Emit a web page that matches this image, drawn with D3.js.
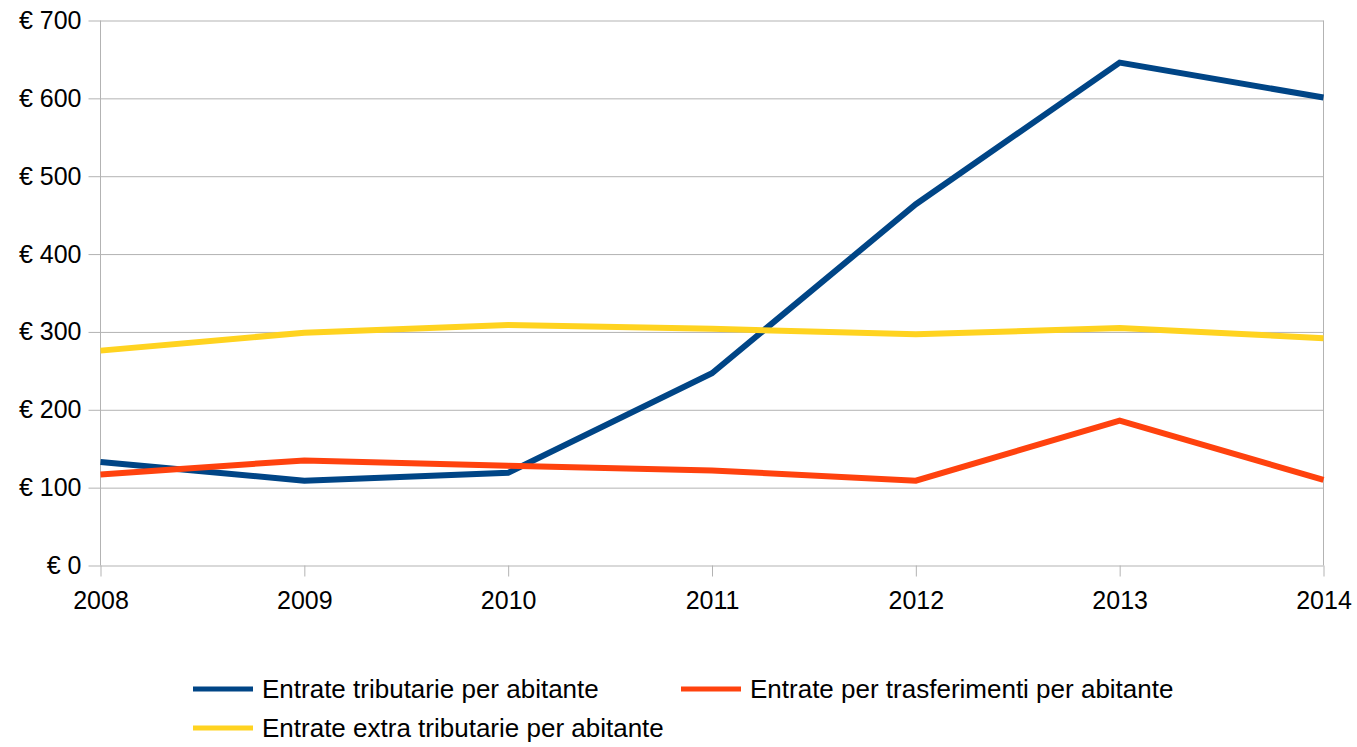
<!DOCTYPE html>
<html>
<head>
<meta charset="utf-8">
<script src="https://cdn.jsdelivr.net/npm/d3@7"></script>
<style>
  body { margin: 0; background: #fff; }
  text { font-family: "Liberation Sans", Arial, sans-serif; fill: #000; }
</style>
</head>
<body>
<script>
const years = ['2008', '2009', '2010', '2011', '2012', '2013', '2014']
const tributarie = [133, 109, 119, 247, 464, 646, 601]
const trasferimenti = [117, 135, 128, 122, 109, 186, 110]
const extraTributarie = [276, 299, 309, 304, 297, 305, 292]
const yTicks = [0, 100, 200, 300, 400, 500, 600, 700]

const series = [
  { name: 'Entrate tributarie per abitante', values: tributarie, color: '#004586' },
  { name: 'Entrate per trasferimenti per abitante', values: trasferimenti, color: '#ff420e' },
  { name: 'Entrate extra tributarie per abitante', values: extraTributarie, color: '#ffd320' }
]

const w = 1357
const h = 747
const plotLeft = 100.5
const plotRight = 1323.5
const plotTop = 20.5
const plotBottom = 565.5
const fontSize = 25
const legendFontSize = 26

const svg = d3.select('body')
  .append('svg')
  .attr('width', w)
  .attr('height', h)

const xScale = d3.scalePoint()
  .domain(years)
  .range([plotLeft, plotRight])

const yScale = d3.scaleLinear()
  .domain([0, 700])
  .range([plotBottom, plotTop])

// horizontal grid + y ticks
const yAxis = d3.axisLeft(yScale)
  .tickValues(yTicks)
  .tickSize(-(plotRight - plotLeft))
  .tickSizeOuter(0)
  .tickPadding(20)
  .tickFormat(d => '€ ' + d)

const gy = svg.append('g')
  .attr('transform', `translate(${plotLeft}, 0)`)
  .call(yAxis)
gy.select('.domain').remove()
gy.selectAll('.tick line')
  .attr('x1', -12)
  .attr('stroke', '#b3b3b3')
  .attr('stroke-width', 1)
gy.selectAll('.tick text')
  .attr('font-size', fontSize)
  .attr('font-family', '"Liberation Sans", Arial, sans-serif')
  .attr('fill', '#000')
  .attr('x', -19)

// vertical borders
svg.append('line')
  .attr('x1', plotLeft).attr('x2', plotLeft)
  .attr('y1', plotTop).attr('y2', plotBottom)
  .attr('stroke', '#b3b3b3')
svg.append('line')
  .attr('x1', plotRight).attr('x2', plotRight)
  .attr('y1', plotTop).attr('y2', plotBottom)
  .attr('stroke', '#b3b3b3')

const xAxis = d3.axisBottom(xScale)
  .tickSize(11)
  .tickPadding(15)

const gx = svg.append('g')
  .attr('transform', `translate(0, ${plotBottom})`)
  .call(xAxis)
gx.select('.domain').remove()
gx.selectAll('.tick line').attr('stroke', '#b3b3b3')
gx.selectAll('.tick text')
  .attr('font-size', fontSize)
  .attr('font-family', '"Liberation Sans", Arial, sans-serif')
  .attr('fill', '#000')

const line = d3.line()
  .x((d, i) => xScale(years[i]))
  .y(d => yScale(d))

svg.selectAll('.series')
  .data(series)
  .enter()
  .append('path')
  .attr('class', 'series')
  .attr('d', d => line(d.values))
  .attr('fill', 'none')
  .attr('stroke', d => d.color)
  .attr('stroke-width', 6)
  .attr('stroke-linejoin', 'miter')

// legend
const legendPos = [[193, 689], [681, 689], [193, 728]]
const legend = svg.selectAll('.legend')
  .data(series)
  .enter()
  .append('g')
  .attr('class', 'legend')
  .attr('transform', (d, i) => `translate(${legendPos[i][0]}, ${legendPos[i][1]})`)

legend.append('line')
  .attr('x1', 0).attr('x2', 60)
  .attr('stroke', d => d.color)
  .attr('stroke-width', 5)

legend.append('text')
  .attr('x', 69)
  .attr('y', 8.5)
  .attr('font-size', legendFontSize)
  .text(d => d.name)
</script>
</body>
</html>
